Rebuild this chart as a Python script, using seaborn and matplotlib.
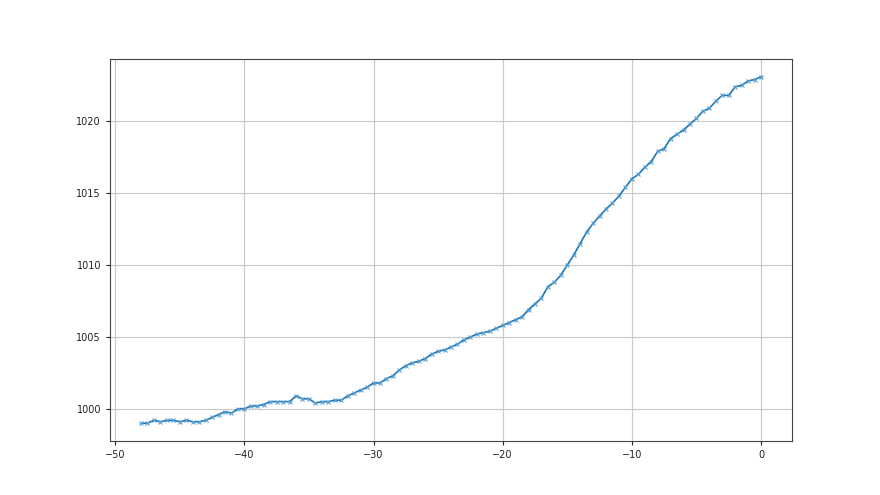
import matplotlib
matplotlib.use("Agg")
import matplotlib.pyplot as plt
import seaborn as sns
import numpy as np
import pandas as pd

x_values = [-48 + 0.5 * i for i in range(97)]
pressure = [
    999.0, 999.0, 999.2, 999.1, 999.2, 999.2, 999.1, 999.2, 999.1, 999.1,
    999.2, 999.4, 999.6, 999.8, 999.7, 1000.0, 1000.0, 1000.2, 1000.2, 1000.3,
    1000.5, 1000.5, 1000.5, 1000.5, 1000.9, 1000.7, 1000.7, 1000.4, 1000.5, 1000.5,
    1000.6, 1000.6, 1000.9, 1001.1, 1001.3, 1001.5, 1001.8, 1001.8, 1002.1, 1002.3,
    1002.7, 1003.0, 1003.2, 1003.3, 1003.5, 1003.8, 1004.0, 1004.1, 1004.3, 1004.5,
    1004.8, 1005.0, 1005.2, 1005.3, 1005.4, 1005.6, 1005.8, 1006.0, 1006.2, 1006.4,
    1006.9, 1007.3, 1007.7, 1008.5, 1008.8, 1009.3, 1010.0, 1010.7, 1011.5, 1012.3,
    1012.9, 1013.4, 1013.9, 1014.3, 1014.8, 1015.4, 1016.0, 1016.3, 1016.8, 1017.2,
    1017.9, 1018.1, 1018.8, 1019.1, 1019.4, 1019.8, 1020.2, 1020.7, 1020.9, 1021.4,
    1021.8, 1021.8, 1022.4, 1022.5, 1022.8, 1022.9, 1023.1,
]

df = pd.DataFrame({"x": x_values, "y": pressure})

fig, ax = plt.subplots(figsize=(8.8, 4.95), dpi=100)
sns.lineplot(data=df, x="x", y="y", ax=ax, color="#1f77b4", marker="x",
             markersize=3.5, markeredgecolor="#5a9fd4", markeredgewidth=0.8,
             linewidth=1.2)
ax.grid(True, color="#c8c8c8", linewidth=0.8)
ax.set_axisbelow(True)
ax.set_xlabel("")
ax.set_ylabel("")
ax.tick_params(labelsize=7, colors="#222222", length=3)
for s in ax.spines.values():
    s.set_color("#444444")
    s.set_linewidth(0.8)
fig.savefig("out.png", dpi=100)
